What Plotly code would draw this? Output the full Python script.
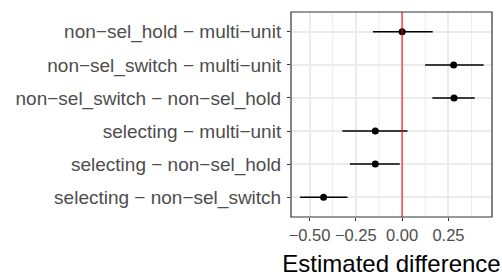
import plotly.graph_objects as go

contrasts = [
    "non−sel_hold − multi−unit",
    "non−sel_switch − multi−unit",
    "non−sel_switch − non−sel_hold",
    "selecting − multi−unit",
    "selecting − non−sel_hold",
    "selecting − non−sel_switch",
]
estimate = [0.000, 0.278, 0.280, -0.145, -0.145, -0.424]
lower = [-0.158, 0.124, 0.163, -0.323, -0.282, -0.551]
upper = [0.165, 0.440, 0.392, 0.029, -0.013, -0.295]

x_ticks = [-0.50, -0.25, 0.00, 0.25]
x_tick_labels = ["−0.50", "−0.25", "0.00", "0.25"]
x_minor = [-0.375, -0.125, 0.125, 0.375]

FONT = "Liberation Sans, Arial, sans-serif"

fig = go.Figure()

# minor vertical gridlines
for v in x_minor:
    fig.add_shape(type="line", x0=v, x1=v, y0=0, y1=1, xref="x", yref="paper",
                  line=dict(color="#EBEBEB", width=1), layer="below")

fig.add_trace(go.Scatter(
    x=estimate, y=contrasts, mode="markers",
    marker=dict(color="black", size=7),
    error_x=dict(type="data", symmetric=False,
                 array=[u - e for u, e in zip(upper, estimate)],
                 arrayminus=[e - l for e, l in zip(estimate, lower)],
                 color="black", thickness=1.5, width=0),
    showlegend=False, hoverinfo="skip",
))

fig.add_shape(type="line", x0=0, x1=0, y0=0, y1=1, xref="x", yref="paper",
              line=dict(color="rgba(255,0,0,0.6)", width=1.8), layer="above")

# panel border
fig.add_shape(type="rect", x0=0, x1=1, y0=0, y1=1, xref="paper", yref="paper",
              line=dict(color="#333333", width=1.2), fillcolor="rgba(0,0,0,0)", layer="above")

axis_common = dict(
    showline=False, automargin=False,
    gridcolor="#EBEBEB", gridwidth=1.6, zeroline=False,
    ticks="outside", ticklen=3, tickcolor="#333333", tickwidth=1.2,
)

fig.update_layout(
    width=502, height=280,
    margin=dict(l=291, r=10, t=12, b=63),
    paper_bgcolor="white", plot_bgcolor="white",
    font=dict(family=FONT),
    xaxis=dict(range=[-0.6, 0.485], tickvals=x_ticks, ticktext=x_tick_labels,
               tickfont=dict(family=FONT, size=16.5, color="#4D4D4D"),
               title=dict(text="Estimated difference", font=dict(family=FONT, size=24, color="black"), standoff=12),
               **axis_common),
    yaxis=dict(type="category", categoryorder="array", categoryarray=contrasts,
               range=[5.6, -0.6], ticklabelstandoff=2,
               tickfont=dict(family=FONT, size=19, color="#4D4D4D"),
               **axis_common),
)

fig.write_html("out.html", config={"displayModeBar": False},
               post_script="document.body.style.margin='0';")
